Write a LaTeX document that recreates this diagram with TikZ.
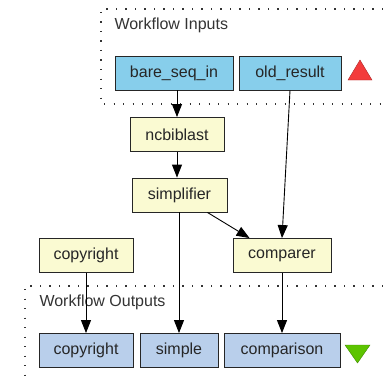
\documentclass[tikz,border=0pt]{standalone}
\usepackage{fontspec}
\setmainfont{Liberation Sans}
\usepackage{tikz}
\usetikzlibrary{arrows.meta,positioning,calc}
\definecolor{inblue}{HTML}{87CEEB}
\definecolor{procyellow}{HTML}{FAFAD2}
\definecolor{outblue}{HTML}{B9CFEB}
\definecolor{txtgray}{HTML}{333333}
\definecolor{upred}{HTML}{F33B3B}
\definecolor{downgreen}{HTML}{5DC400}
\tikzset{
  port/.style={draw=black!85, line width=0.9pt, minimum height=34pt, inner sep=0pt,
    font=\fontsize{16}{18}\selectfont, text=black!85},
  inport/.style={port, fill=inblue},
  procbox/.style={port, fill=procyellow},
  outport/.style={port, fill=outblue},
  flow/.style={line width=0.9pt, -{Triangle[length=13pt,width=10pt]}},
  cluster/.style={line width=1.1pt, dash pattern=on 1.1pt off 8.4pt, black!80},
}
\begin{document}
\begin{tikzpicture}[x=1pt,y=-1pt]
  \useasboundingbox (0,0) rectangle (383,380);

  %% workflow inputs
  \draw[cluster] (383,9) -- (101,9) -- (101,104) -- (383,104);
  \node[anchor=west, text=txtgray, font=\fontsize{16}{18}\selectfont] (inlabel) at (111,25) {Workflow Inputs};
  \node[inport, minimum width=118pt] (bare) at (174,73) {bare\_seq\_in};
  \node[inport, minimum width=102pt] (old) at (290,73) {old\_result};
  \fill[upred, draw=upred!70!black, line width=0.4pt] (348,80) -- (372,80) -- (360,60) -- cycle;

  %% processors
  \node[procbox, minimum width=94pt] (ncbi) at (177,134.5) {ncbiblast};
  \node[procbox, minimum width=95pt] (simp) at (179.5,195) {simplifier};
  \node[procbox, minimum width=94pt] (copy) at (86,255.5) {copyright};
  \node[procbox, minimum width=98pt] (comp) at (282,255.5) {comparer};

  %% workflow outputs
  \draw[cluster] (383,286) -- (25,286) -- (25,383);
  \node[anchor=west, text=txtgray, font=\fontsize{16}{18}\selectfont] (outlabel) at (36,302) {Workflow Outputs};
  \node[outport, minimum width=94pt] (copyout) at (86,350.5) {copyright};
  \node[outport, minimum width=78pt] (simple) at (179,350.5) {simple};
  \node[outport, minimum width=116pt] (comparison) at (282,350.5) {comparison};
  \fill[downgreen, draw=downgreen!70!black, line width=0.4pt] (345,345) -- (370,345) -- (357.5,363) -- cycle;

  %% links
  \draw[flow] (bare.south -| ncbi.north) -- (ncbi.north);
  \draw[flow] (ncbi.south) -- (ncbi.south |- simp.north);
  \draw[flow] (old.south) -- (comp.north);
  \draw[flow] ([xshift=-20pt]simp.south east) -- ([xshift=17pt]comp.north west);
  \draw[flow] (simp.south -| simple.north) -- (simple.north);
  \draw[flow] (copy.south) -- (copyout.north);
  \draw[flow] (comp.south) -- (comparison.north);
\end{tikzpicture}
\end{document}
